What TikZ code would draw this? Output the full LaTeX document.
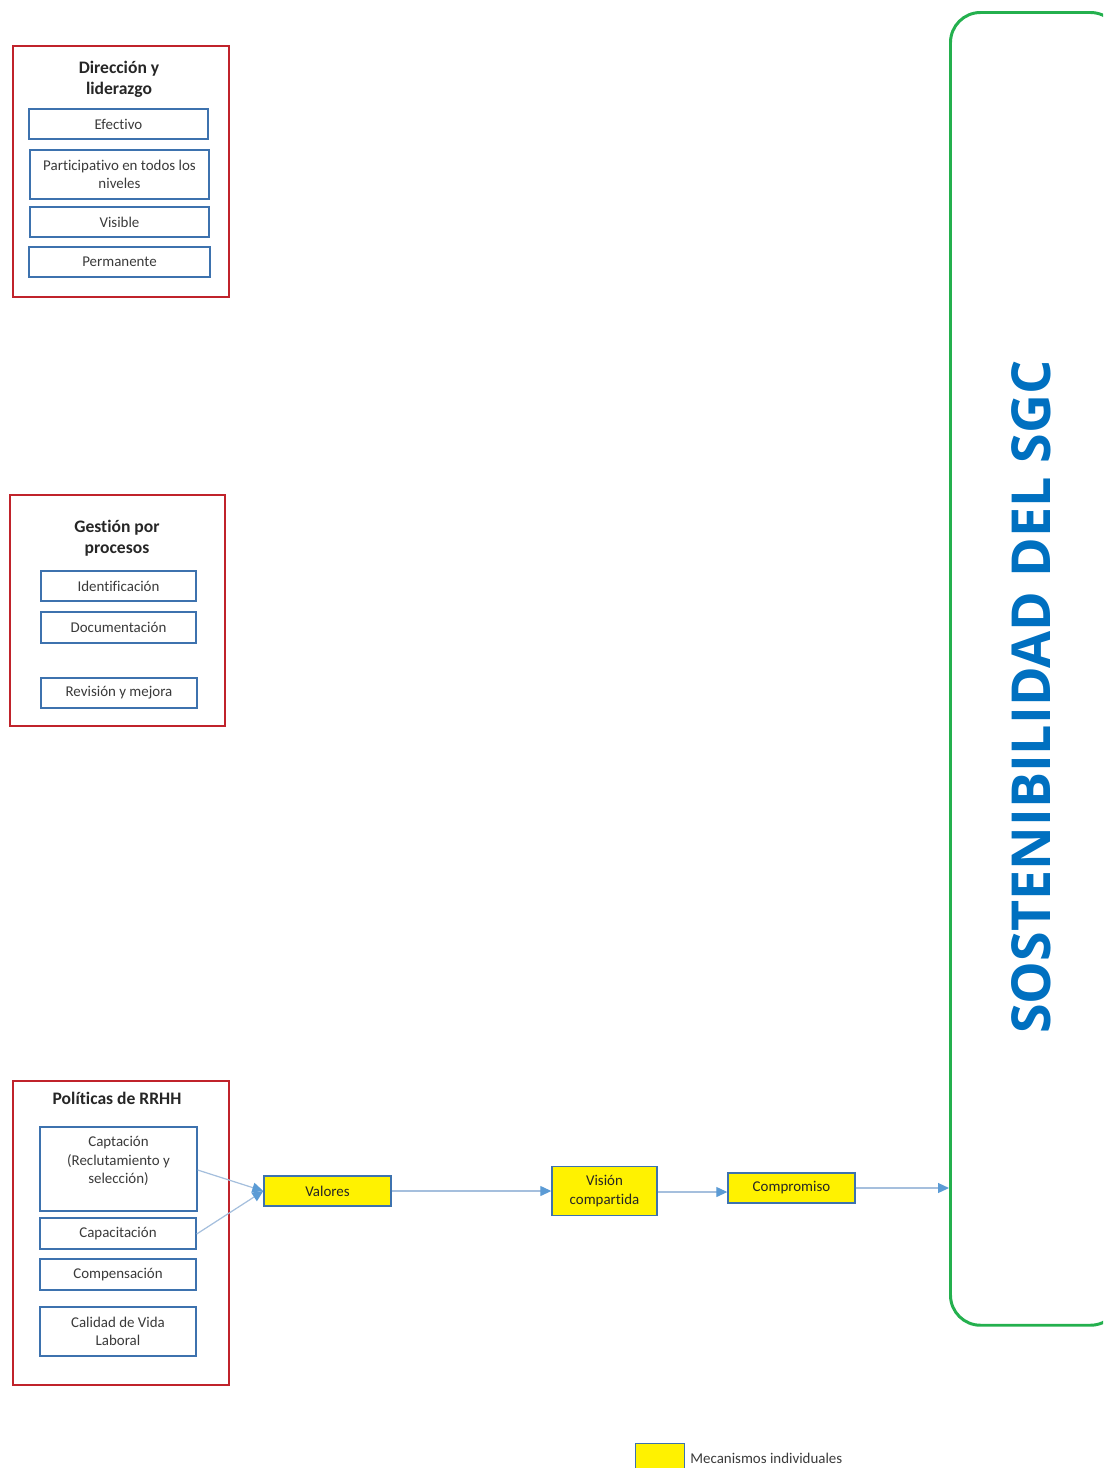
\documentclass[tikz,border=0pt]{standalone}
\usepackage{fontspec}
\setmainfont{Carlito}[Ligatures=NoCommon]
\newfontfamily\bigfont{Open Sans}
\usepackage{xcolor}
\usetikzlibrary{arrows.meta}
\definecolor{rojo}{HTML}{C0232B}
\definecolor{azul}{HTML}{3D72AE}
\definecolor{verde}{HTML}{24B04E}
\definecolor{flecha}{HTML}{A5BFDD}
\definecolor{punta}{HTML}{5B9BD5}
\definecolor{titulo}{HTML}{0070C0}
\definecolor{gris}{HTML}{3A3A3A}

\begin{document}
\begin{tikzpicture}[x=0.02cm,y=-0.02cm]
\tikzset{>={Triangle[width=2mm,length=2.2mm,color=punta]}}
\tikzstyle{grupo} =[draw=rojo, line width=1.1pt, inner sep=0pt]
\tikzstyle{gtitle} =[font=\fontsize{10}{12}\selectfont\bfseries, text=black!85, align=center, inner sep=0pt]
\tikzstyle{sub} =[draw=azul, line width=0.8pt, fill=white, inner sep=1pt, align=center, text=gris, font=\fontsize{8.5}{10.5}\selectfont]
\tikzstyle{meca} =[draw=azul, line width=0.8pt, fill=yellow, inner sep=1pt, align=center, text=black!85, font=\fontsize{8.5}{10.5}\selectfont]
\tikzstyle{flujo} =[draw=flecha, line width=0.7pt, ->]

\clip (0,0) rectangle (1103,1468);

% Direccion y liderazgo
\node[grupo, minimum width=4.32cm, minimum height=5.02cm](dir) at (121,171.5){};
\node[gtitle](dirT) at (119,79){Dirección y\\liderazgo};
\node[sub, minimum width=3.58cm, minimum height=0.6cm](efe) at (118.5,124){Efectivo};
\node[sub, minimum width=3.58cm, minimum height=0.98cm](par) at (119.5,174.5){Participativo en todos los\\niveles};
\node[sub, minimum width=3.58cm, minimum height=0.6cm](vis) at (119.5,222){Visible};
\node[sub, minimum width=3.62cm, minimum height=0.6cm](per) at (119.5,262){Permanente};

% Gestion por procesos
\node[grupo, minimum width=4.3cm, minimum height=4.62cm](ges) at (117.5,610.5){};
\node[gtitle](gesT) at (117,538){Gestión por\\procesos};
\node[sub, minimum width=3.1cm, minimum height=0.6cm](ide) at (118.5,586){Identificación};
\node[sub, minimum width=3.1cm, minimum height=0.62cm](doc) at (118.5,627.5){Documentación};
\node[sub, minimum width=3.12cm, minimum height=0.6cm](rev) at (119,693){Revisión y mejora};

% Politicas de RRHH
\node[grupo, minimum width=4.32cm, minimum height=6.08cm](pol) at (121,1233){};
\node[gtitle](polT) at (117,1098){Políticas de RRHH};
\node[sub, minimum width=3.14cm, minimum height=1.68cm](cap) at (118.5,1169){};
\node[sub, draw=none, fill=none, anchor=north](capT) at (118.5,1134){Captación\\(Reclutamiento y\\selección)};
\node[sub, minimum width=3.12cm, minimum height=0.62cm](cpc) at (118,1233.5){Capacitación};
\node[sub, minimum width=3.12cm, minimum height=0.62cm](com) at (118,1274.5){Compensación};
\node[sub, minimum width=3.12cm, minimum height=0.98cm](cal) at (118,1331.5){Calidad de Vida\\Laboral};

% mecanismos individuales
\node[meca, minimum width=2.54cm, minimum height=0.6cm](val) at (327.5,1191){Valores};
\node[meca, minimum width=2.1cm, minimum height=0.98cm](vic) at (604.5,1191){Visión\\compartida};
\node[meca, minimum width=2.54cm, minimum height=0.6cm](cmp) at (791.5,1188){Compromiso};

% sostenibilidad
\node[draw=verde, line width=1.7pt, rounded corners=0.6cm, minimum width=3.4cm, minimum height=26.26cm, anchor=north west](sgc) at (949,11){};
\node[rotate=90, text=titulo, font=\bigfont\bfseries\fontsize{30.6}{36}\selectfont](sgcT) at (1031,697){SOSTENIBILIDAD DEL SGC};

\draw[flujo] (cap.east |- 0,1170) -- (val.west);
\draw[flujo] (cpc.east |- 0,1234) -- (val.west);
\draw[flujo] (val.east) -- (val.east -| vic.west);
\draw[flujo] (vic.east |- 0,1192) -- (cmp.west |- 0,1192);
\draw[flujo] (cmp.east) -- (cmp.east -| sgc.west);

% leyenda
\node[meca, minimum width=0.98cm, minimum height=0.6cm, anchor=north west](ley) at (635,1443){};
\node[anchor=west, inner sep=0pt, text=gris, font=\fontsize{8.5}{10}\selectfont](leyT) at (690,1458){Mecanismos individuales};

\end{tikzpicture}
\end{document}
